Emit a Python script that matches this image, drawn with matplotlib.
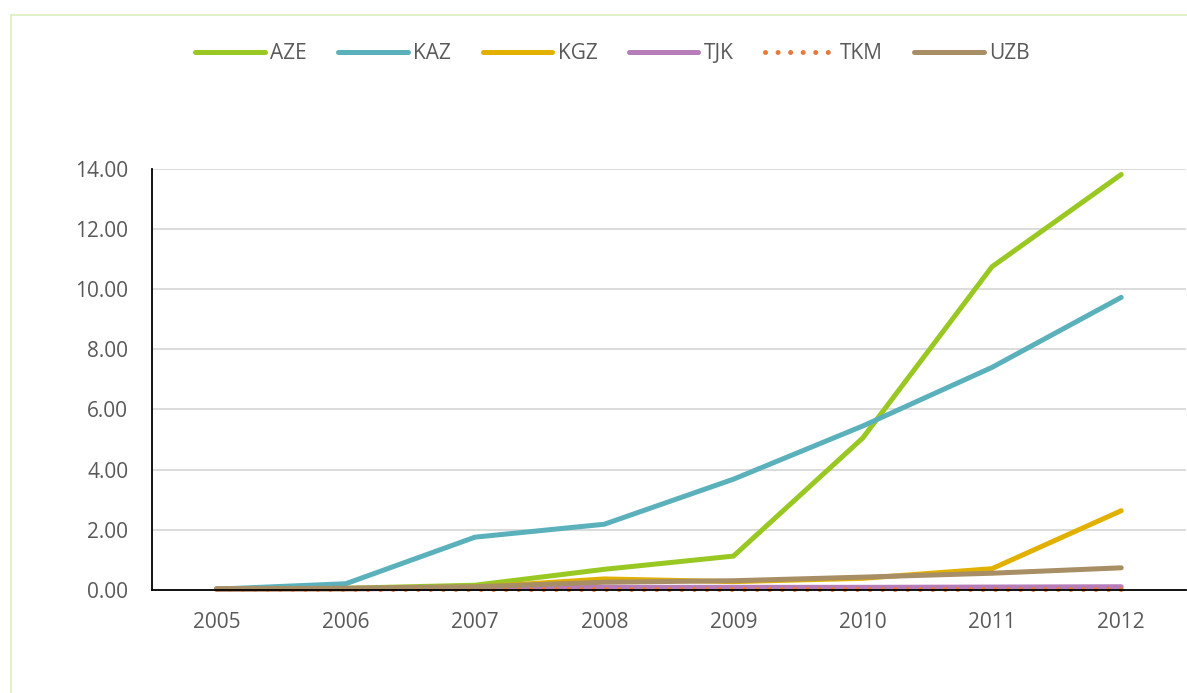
import matplotlib.pyplot as plt
from matplotlib.lines import Line2D
import numpy as np

plt.rcParams['font.family'] = ['Open Sans', 'DejaVu Sans']

years = ['2005', '2006', '2007', '2008', '2009', '2010', '2011', '2012']
aze = [0.03, 0.05, 0.15, 0.68, 1.12, 5.05, 10.75, 13.82]
kaz = [0.02, 0.20, 1.75, 2.18, 3.68, 5.45, 7.40, 9.73]
kgz = [0.02, 0.03, 0.08, 0.36, 0.27, 0.38, 0.70, 2.63]
tjk = [0.02, 0.03, 0.05, 0.08, 0.08, 0.08, 0.09, 0.10]
tkm = [0.01, 0.01, 0.01, 0.01, 0.01, 0.01, 0.01, 0.01]
uzb = [0.03, 0.05, 0.10, 0.25, 0.30, 0.42, 0.55, 0.73]

series = [
	('AZE', aze, '#9AC822', '-'),
	('KAZ', kaz, '#5AB1BB', '-'),
	('KGZ', kgz, '#E2B100', '-'),
	('TJK', tjk, '#B77DB8', '-'),
	('TKM', tkm, '#E57A3C', (0, (0.01, 2.5))),
	('UZB', uzb, '#A88E65', '-'),
]

fig = plt.figure(figsize=(11.87, 6.93), dpi=100)
ax = fig.add_axes([0.128, 0.149, 0.871, 0.607])

x = np.arange(len(years))
for name, vals, color, ls in series:
	ax.plot(x, vals, color=color, lw=3.6, linestyle=ls, label=name,
			solid_capstyle='round', dash_capstyle='round', clip_on=False)

ax.set_xlim(-0.5, len(years) - 0.5)
ax.set_ylim(0, 14)
ax.set_yticks(np.arange(0, 15, 2))
ax.set_yticklabels([f'{v:.2f}' for v in np.arange(0, 15, 2)])
ax.set_xticks(x)
ax.set_xticklabels(years)
ax.tick_params(axis='both', length=0, labelsize=15, labelcolor='#595959')
ax.tick_params(axis='x', pad=16)
ax.tick_params(axis='y', pad=17)
ax.grid(axis='y', color='#D9D9D9', lw=1.3)
ax.set_axisbelow(True)
for s in ['top', 'right']:
	ax.spines[s].set_visible(False)
for s in ['left', 'bottom']:
	ax.spines[s].set_color('black')
	ax.spines[s].set_linewidth(1.3)

ax.legend(loc='center', bbox_to_anchor=(0.516, 0.923), bbox_transform=fig.transFigure,
		  ncol=6, frameon=False, fontsize=15, handlelength=3.35, columnspacing=1.5,
		  handletextpad=0.25, labelcolor='#595959')

# light green frame of the original chart area
fig.add_artist(Line2D([11 / 1187, 1], [1 - 15 / 693, 1 - 15 / 693], color='#DCEFC0', lw=1.2))
fig.add_artist(Line2D([11 / 1187, 11 / 1187], [0, 1 - 15 / 693], color='#DCEFC0', lw=1.2))

fig.savefig('out.png', dpi=100)
